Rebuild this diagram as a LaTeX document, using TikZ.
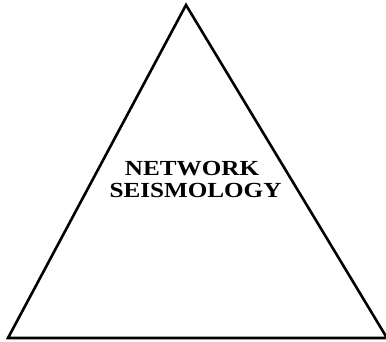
\documentclass[tikz,border=0pt]{standalone}
\usepackage{fontspec}
\setmainfont{Liberation Serif}[FakeStretch=1.17]
\begin{document}
\begin{tikzpicture}[x=1pt,y=1pt,
  edge/.style={line width=2.6pt,line join=miter},
  label/.style={font=\fontsize{21.5}{22}\selectfont\bfseries,inner sep=0pt,anchor=base}]
\useasboundingbox (0,0) rectangle (386,342);
\coordinate (apex) at (186,337);
\coordinate (bl) at (8,4);
\coordinate (br) at (387,4);
\draw[edge] (bl) -- (apex) -- (br) -- cycle;
\node[label] (t1) at (192,166) {NETWORK};
\node[label] (t2) at (195.5,144) {SEISMOLOGY};
\end{tikzpicture}
\end{document}
